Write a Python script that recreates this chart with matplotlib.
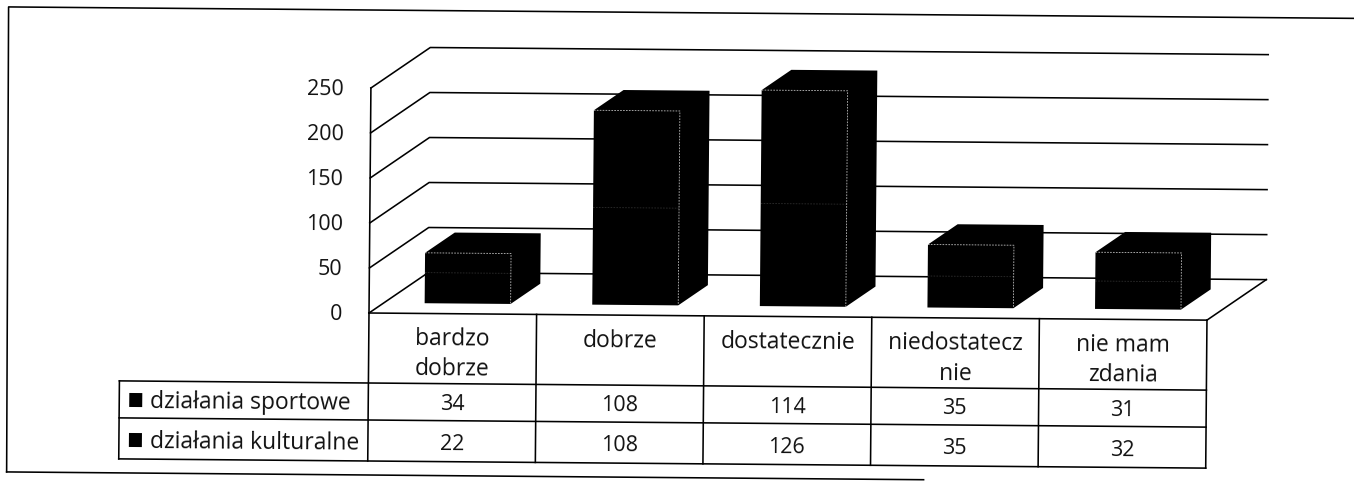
import matplotlib
matplotlib.use('Agg')
import matplotlib.pyplot as plt
from matplotlib.transforms import Affine2D

categories = ['bardzo\ndobrze', 'dobrze', 'dostatecznie', 'niedostatecz\nnie', 'nie mam\nzdania']
series_names = ['działania sportowe', 'działania kulturalne']
sportowe = [34, 108, 114, 35, 31]
kulturalne = [22, 108, 126, 35, 32]
y_ticks = [0, 50, 100, 150, 200, 250]

plt.rcParams['font.family'] = ['Open Sans', 'DejaVu Sans']

W, H = 1354, 482
X0, Y0 = 369, 313      # front corner of the floor, in pixels from top left
CAT_PX = 167.6         # pixels per category
VAL_PX = 0.9           # pixels per unit
DEPTH_X = 59 / CAT_PX  # depth of the 3d box in data units
DEPTH_Y = 41 / VAL_PX
TILT = 0.0085          # the page was scanned slightly crooked
FONT_WORD = 16.5
FONT_NUM = 15.5
LW = 1.15

fig = plt.figure(figsize=(W / 100, H / 100), dpi=100)
ax = fig.add_axes([X0 / W, (H - Y0) / H, 5 * CAT_PX / W, 250 * VAL_PX / H])
ax.set_xlim(0, 5)
ax.set_ylim(0, 250)
ax.set_axis_off()

tilt = Affine2D().translate(-X0, -(H - Y0)).rotate(-TILT).translate(X0, H - Y0)
tr = ax.transData + tilt


def depth(x, v, d):
    return x + d * DEPTH_X, v + d * DEPTH_Y


def px(dx, dy):
    # layout offset in pixels from the floor corner (dy grows downward)
    return dx / CAT_PX, -dy / VAL_PX


def line(points, **kw):
    xs, ys = zip(*points)
    style = dict(color='black', lw=LW, clip_on=False, transform=tr, solid_capstyle='projecting')
    style.update(kw)
    ax.plot(xs, ys, **style)


def label(dx, dy, s, ha='center', size=FONT_NUM):
    x, y = px(dx, dy + 2)
    ax.text(x, y, s, ha=ha, va='center', fontsize=size, color='#111111', transform=tr,
            rotation=-0.45, rotation_mode='anchor', clip_on=False)


# outer frame of the chart
line([px(-361, 162), px(-363, -303), px(1020, -303)])
line([px(-361, 162), px(556, 162)])

# walls and gridlines
line([(0, 0), (0, 250)])
for v in y_ticks:
    line([(0, v), depth(0, v, 1), depth(5, v, 1)])
    label(-27, -v * VAL_PX, str(v), ha='right')
line([(5, 0), depth(5, 0, 1)])

# stacked 3d bars
BAR_W = 0.513
D1, D2 = 0.25, 0.75
for i in range(5):
    left = i + 0.5 - BAR_W / 2
    right = left + BAR_W
    top = sportowe[i] + kulturalne[i]
    a = depth(left, 0, D1)
    b = depth(right, 0, D1)
    c = depth(right, top, D1)
    d = depth(left, top, D1)
    e = depth(left, top, D2)
    f = depth(right, top, D2)
    g = depth(right, 0, D2)
    xs, ys = zip(a, b, g, f, e, d)
    ax.fill(xs, ys, color='black', lw=0, clip_on=False, transform=tr, zorder=3)
    dotted = dict(color='white', lw=0.6, ls=(0, (2, 1.5)), alpha=0.75, zorder=4)
    line([d, c, b], **dotted)
    line([depth(left, sportowe[i], D1), depth(right, sportowe[i], D1)], **dict(dotted, alpha=0.18))

# data table
ROWS = [0, 70, 107, 148]
LEFT = -249
for r in ROWS:
    start = 0 if r == 0 else LEFT
    line([px(start, r), px(5 * CAT_PX, r)])
line([px(LEFT, 70), px(LEFT, 148)])
for i in range(6):
    line([px(i * CAT_PX, 0), px(i * CAT_PX, 148)])

for i, cat in enumerate(categories):
    cx = (i + 0.5) * CAT_PX
    for n, part in enumerate(cat.split('\n')):
        label(cx, 24 + n * 30, part, size=FONT_WORD)
    label(cx, 89, str(sportowe[i]))
    label(cx, 129, str(kulturalne[i]))

for name, y in zip(series_names, [89, 129]):
    xs = [-239, -226, -226, -239]
    ys = [y - 7, y - 7, y + 7, y + 7]
    pts = [px(a, b) for a, b in zip(xs, ys)]
    ax.fill(*zip(*pts), color='black', lw=0, clip_on=False, transform=tr)
    label(-218, y, name, ha='left', size=FONT_WORD)

fig.savefig('out.png', dpi=100, facecolor='white')
